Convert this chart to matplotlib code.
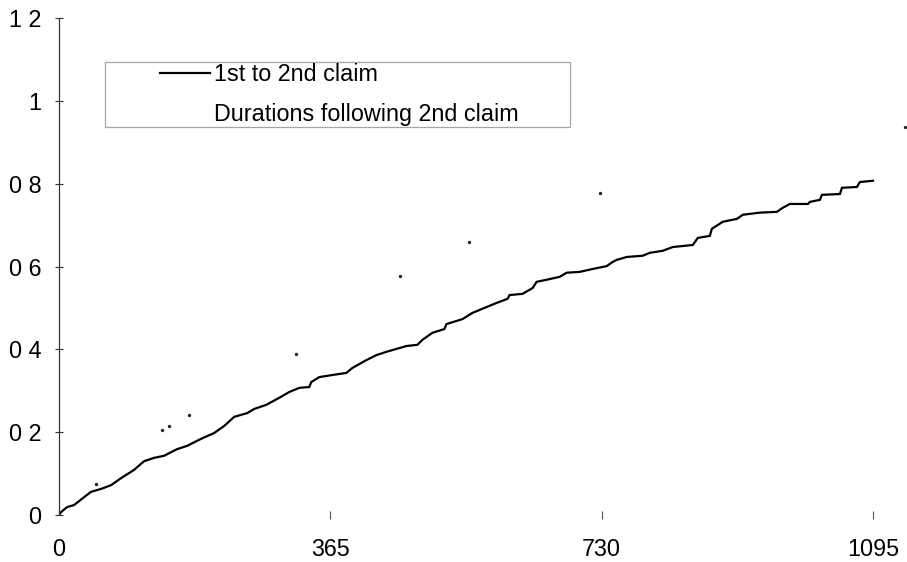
import matplotlib
matplotlib.use("Agg")
import matplotlib.pyplot as plt
from matplotlib.patches import Rectangle

# ---- data ----
days_first = [0, 2.7, 10.8, 20.2, 33.7, 43.1, 56.6, 70.0, 83.5, 101.0, 114.5, 128.0,
              141.4, 158.9, 172.4, 191.2, 208.8, 222.2, 235.7, 253.2, 262.6, 278.8,
              296.3, 309.8, 323.2, 336.7, 339.4, 350.2, 367.7, 386.5, 394.6, 413.5,
              426.9, 440.4, 457.9, 467.4, 482.2, 488.9, 502.4, 518.5, 521.2, 542.8,
              556.2, 575.1, 588.6, 603.4, 606.1, 623.6, 637.1, 642.5, 655.9, 673.4,
              682.9, 700.4, 717.9, 736.8, 744.8, 750.2, 763.7, 785.2, 794.7, 812.2,
              825.7, 852.6, 859.3, 875.5, 878.2, 893.0, 911.9, 920.0, 942.8, 965.7,
              973.8, 983.2, 1007.5, 1010.1, 1023.6, 1026.3, 1050.5, 1053.2, 1073.4,
              1077.4, 1095]
vals_first = [0, 0.007, 0.019, 0.024, 0.043, 0.056, 0.063, 0.072, 0.089, 0.109, 0.130, 0.138,
              0.143, 0.159, 0.167, 0.184, 0.198, 0.215, 0.237, 0.246, 0.256, 0.266,
              0.283, 0.297, 0.307, 0.309, 0.321, 0.333, 0.338, 0.343, 0.355, 0.374,
              0.386, 0.394, 0.403, 0.408, 0.411, 0.423, 0.440, 0.449, 0.461, 0.473,
              0.488, 0.502, 0.512, 0.522, 0.531, 0.534, 0.548, 0.563, 0.568, 0.575,
              0.585, 0.587, 0.594, 0.601, 0.611, 0.616, 0.623, 0.626, 0.633, 0.638,
              0.647, 0.652, 0.669, 0.674, 0.691, 0.708, 0.715, 0.725, 0.730, 0.732,
              0.742, 0.751, 0.751, 0.756, 0.761, 0.773, 0.775, 0.790, 0.792,
              0.804, 0.807]

# second series survives only as faint specks in the scan
days_second = [49.8, 138.7, 148.2, 175.1, 319.2, 459.3, 550.9, 727.3, 1138]
vals_second = [0.075, 0.205, 0.215, 0.242, 0.389, 0.577, 0.659, 0.778, 0.937]

series_labels = ["1st to 2nd claim", "Durations following 2nd claim"]
x_ticks = [0, 365, 730, 1095]
x_ticklabels = ["0", "365", "730", "1095"]
y_ticks = [0, 0.2, 0.4, 0.6, 0.8, 1.0, 1.2]
y_ticklabels = ["0", "0 2", "0 4", "0 6", "0 8", "1", "1 2"]

# ---- figure ----
W, H = 907, 562
fig = plt.figure(figsize=(W / 100, H / 100), dpi=100)
plt.rcParams['font.family'] = ['Liberation Sans', 'DejaVu Sans']

x0_px, y0_px = 59, 515
xmax = 1150
px_per_day = (873 - 59) / 1095
right_px = x0_px + xmax * px_per_day
top_px = 18
ax = fig.add_axes([x0_px / W, 1 - y0_px / H, (right_px - x0_px) / W, (y0_px - top_px) / H])

l1, = ax.plot(days_first, vals_first, color='black', lw=1.6,
              solid_joinstyle='miter', label=series_labels[0])
l2, = ax.plot(days_second, vals_second, linestyle='none', marker='o', markersize=1.4,
              color='#222222', label=series_labels[1], clip_on=False)

ax.set_xlim(0, xmax)
ax.set_ylim(0, 1.2)
ax.set_xticks(x_ticks)
ax.set_xticklabels(x_ticklabels)
ax.set_yticks(y_ticks)
ax.set_yticklabels(y_ticklabels)

for s in ['top', 'right', 'bottom']:
    ax.spines[s].set_visible(False)
ax.spines['left'].set_color('#333333')
ax.spines['left'].set_linewidth(0.9)

ax.tick_params(axis='y', direction='inout', length=6, width=0.8, color='#333333',
               labelsize=16.8, pad=9.5)
ax.tick_params(axis='x', direction='inout', length=6, width=0.8, color='#555555',
               labelsize=16.8, pad=13.5)
ax.xaxis.get_major_ticks()[0].tick1line.set_visible(False)

# legend frame (faded in the scan)
fig.patches.append(Rectangle((105 / W, 1 - 127 / H), (570 - 105) / W, (127 - 62) / H,
                             transform=fig.transFigure, fill=False,
                             edgecolor='#a5a5a5', lw=0.9))
leg = fig.legend(handles=[l1, l2], labels=series_labels, loc='upper left',
                 bbox_to_anchor=(160 / W, 1 - 63 / H), frameon=False,
                 fontsize=16.8, handlelength=2.15, handletextpad=0.15,
                 borderpad=0, borderaxespad=0, labelspacing=0.75)
leg.legend_handles[1].set_visible(False)

fig.savefig("out.png", dpi=100)
